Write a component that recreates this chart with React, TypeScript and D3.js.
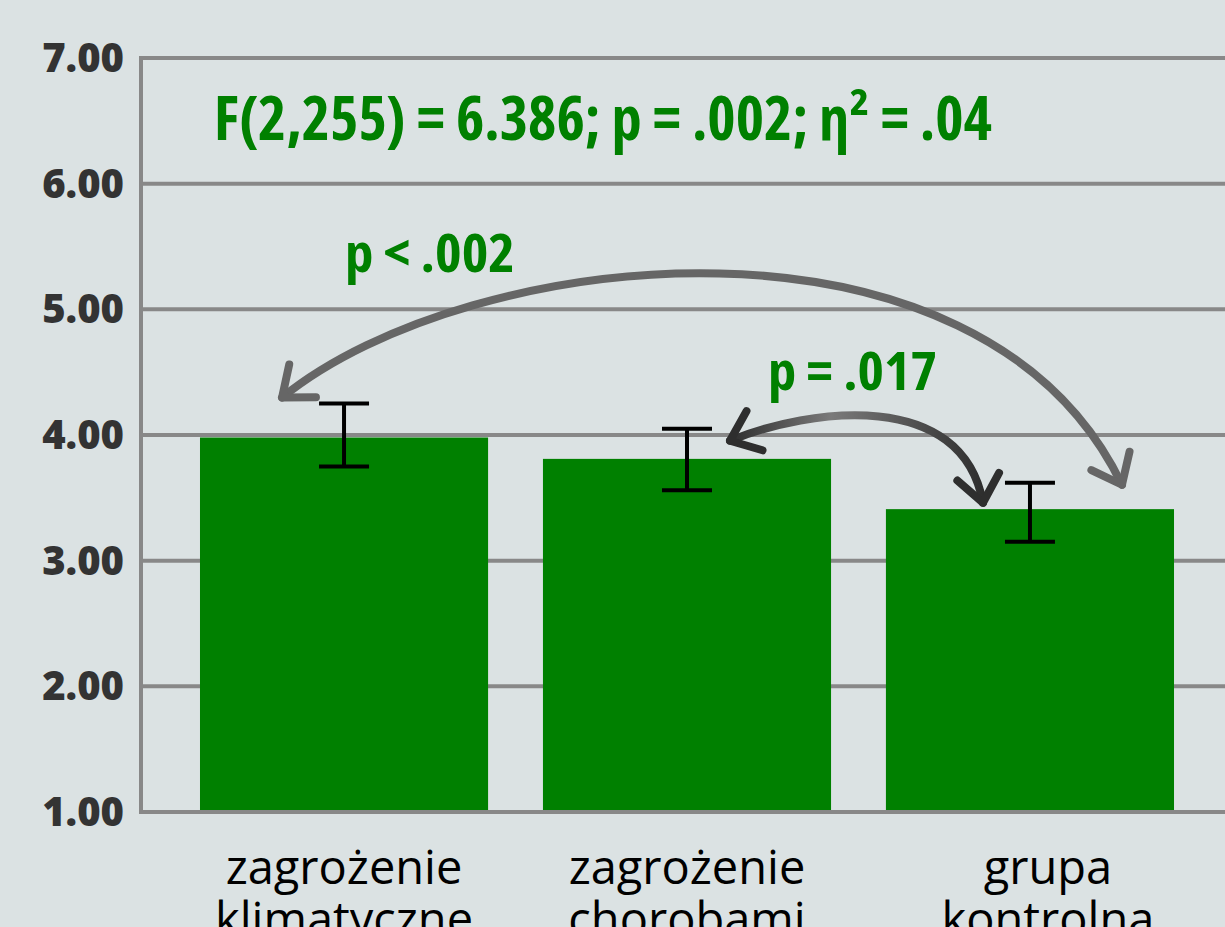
import React from "react";
import * as d3 from "d3";

const categories = ["zagrożenie klimatyczne", "zagrożenie chorobami", "grupa kontrolna"];
const labelLines = [["zagrożenie", "klimatyczne"], ["zagrożenie", "chorobami"], ["grupa", "kontrolna"]];
const means = [3.98, 3.81, 3.41];
const errLow = [3.75, 3.56, 3.15];
const errHigh = [4.25, 4.05, 3.62];
const yTicks = [1, 2, 3, 4, 5, 6, 7];
const titleText = "F(2,255) = 6.386; p = .002; η² = .04";
const comparisons = [
  { from: 0, to: 2, label: "p < .002" },
  { from: 1, to: 2, label: "p = .017" },
];

const W = 1225;
const H = 927;
const left = 141;
const top = 58;
const bottom = 812;

export default function App() {
  const x = d3.scaleBand<string>().domain(categories).range([left, 1233]).paddingInner(0.16).paddingOuter(0.172);
  const y = d3.scaleLinear().domain([1, 7]).range([bottom, top]);
  const bw = x.bandwidth();
  const cx = (i: number) => (x(categories[i]) as number) + bw / 2;
  const labelX = (i: number) => cx(i) + (i === categories.length - 1 ? 18 : 0);

  // long arrow: between bar 0 and bar 2
  const a1s: [number, number] = [cx(0) - 62, y(errHigh[0]) - 6];
  const a1e: [number, number] = [cx(2) + 92, y(errHigh[2]) + 2];
  const p1 = d3.path();
  p1.moveTo(a1s[0], a1s[1]);
  p1.bezierCurveTo(470, 245, 980, 190, a1e[0], a1e[1]);

  // short arrow: between bar 1 and bar 2
  const a2s: [number, number] = [cx(1) + 43, y(errHigh[1]) + 12];
  const a2e: [number, number] = [cx(2) - 47, y(errHigh[2]) + 20];
  const p2 = d3.path();
  p2.moveTo(a2s[0], a2s[1]);
  p2.bezierCurveTo(810, 408, 962, 388, a2e[0], a2e[1]);

  return (
    <svg width={W} height={H} style={{ position: "absolute", left: 0, top: 0, background: "#dbe2e3" }}>
      <defs>
        <marker id="ah1" viewBox="-14 -12 16 24" markerWidth={5.3} markerHeight={8} refX={0} refY={0} orient="auto-start-reverse" markerUnits="strokeWidth">
          <path d="M -10 -8 L 0 0 L -10 8" fill="none" stroke="#666" strokeWidth={3} strokeLinecap="round" strokeLinejoin="round" />
        </marker>
        <marker id="ah2" viewBox="-14 -12 16 24" markerWidth={5.3} markerHeight={8} refX={0} refY={0} orient="auto-start-reverse" markerUnits="strokeWidth">
          <path d="M -10 -8 L 0 0 L -10 8" fill="none" stroke="#2e2e2e" strokeWidth={3} strokeLinecap="round" strokeLinejoin="round" />
        </marker>
        <linearGradient id="g2" x1="0" x2="1" y1="0" y2="0">
          <stop offset="0" stopColor="#2e2e2e" />
          <stop offset="0.4" stopColor="#7a7a7a" />
          <stop offset="1" stopColor="#2e2e2e" />
        </linearGradient>
      </defs>
      <rect x={0} y={0} width={W} height={H} fill="#dbe2e3" />
      {/* gridlines */}
      {yTicks.map((t) => (
        <line key={t} x1={left} x2={W} y1={y(t)} y2={y(t)} stroke="#888" strokeWidth={4} />
      ))}
      <line x1={left} x2={left} y1={top - 2} y2={bottom + 2} stroke="#888" strokeWidth={4} />
      {/* tick labels */}
      {yTicks.map((t) => (
        <text key={t} x={124} y={y(t) + 14} textAnchor="end" fontFamily="'Open Sans', sans-serif" fontWeight={800} fontSize={40} fill="#333">
          {d3.format(".2f")(t)}
        </text>
      ))}
      {/* bars */}
      {categories.map((c, i) => (
        <rect key={c} x={x(c)} y={y(means[i])} width={bw} height={y(1) - y(means[i]) - 2} fill="#008000" />
      ))}
      {/* error bars */}
      {categories.map((c, i) => (
        <g key={c} stroke="#000" strokeWidth={4}>
          <line x1={cx(i)} x2={cx(i)} y1={y(errHigh[i])} y2={y(errLow[i])} />
          <line x1={cx(i) - 25} x2={cx(i) + 25} y1={y(errHigh[i])} y2={y(errHigh[i])} />
          <line x1={cx(i) - 25} x2={cx(i) + 25} y1={y(errLow[i])} y2={y(errLow[i])} />
        </g>
      ))}
      {/* category labels */}
      {labelLines.map((lines, i) => (
        <text key={i} x={labelX(i)} y={884} textAnchor="middle" fontFamily="'Open Sans', sans-serif" fontSize={47} fill="#000">
          {lines.map((l, j) => (
            <tspan key={j} x={labelX(i)} dy={j === 0 ? 0 : 52}>{l}</tspan>
          ))}
        </text>
      ))}
      {/* title */}
      <text x={214} y={140} fontFamily="'Open Sans', sans-serif" fontWeight={700} fontStretch="condensed" fontSize={60} fill="#008000" textLength={778} lengthAdjust="spacingAndGlyphs">
        {titleText}
      </text>
      {/* arrows */}
      <path d={p1.toString()} fill="none" stroke="#666" strokeWidth={8} strokeLinecap="round" markerStart="url(#ah1)" markerEnd="url(#ah1)" />
      <path d={p2.toString()} fill="none" stroke="url(#g2)" strokeWidth={8} strokeLinecap="round" markerStart="url(#ah2)" markerEnd="url(#ah2)" />
      <text x={345} y={272} fontFamily="'Open Sans', sans-serif" fontWeight={700} fontStretch="condensed" fontSize={54} fill="#008000" textLength={170} lengthAdjust="spacingAndGlyphs">
        {comparisons[0].label}
      </text>
      <text x={768} y={390} fontFamily="'Open Sans', sans-serif" fontWeight={700} fontStretch="condensed" fontSize={54} fill="#008000" textLength={169} lengthAdjust="spacingAndGlyphs">
        {comparisons[1].label}
      </text>
    </svg>
  );
}
